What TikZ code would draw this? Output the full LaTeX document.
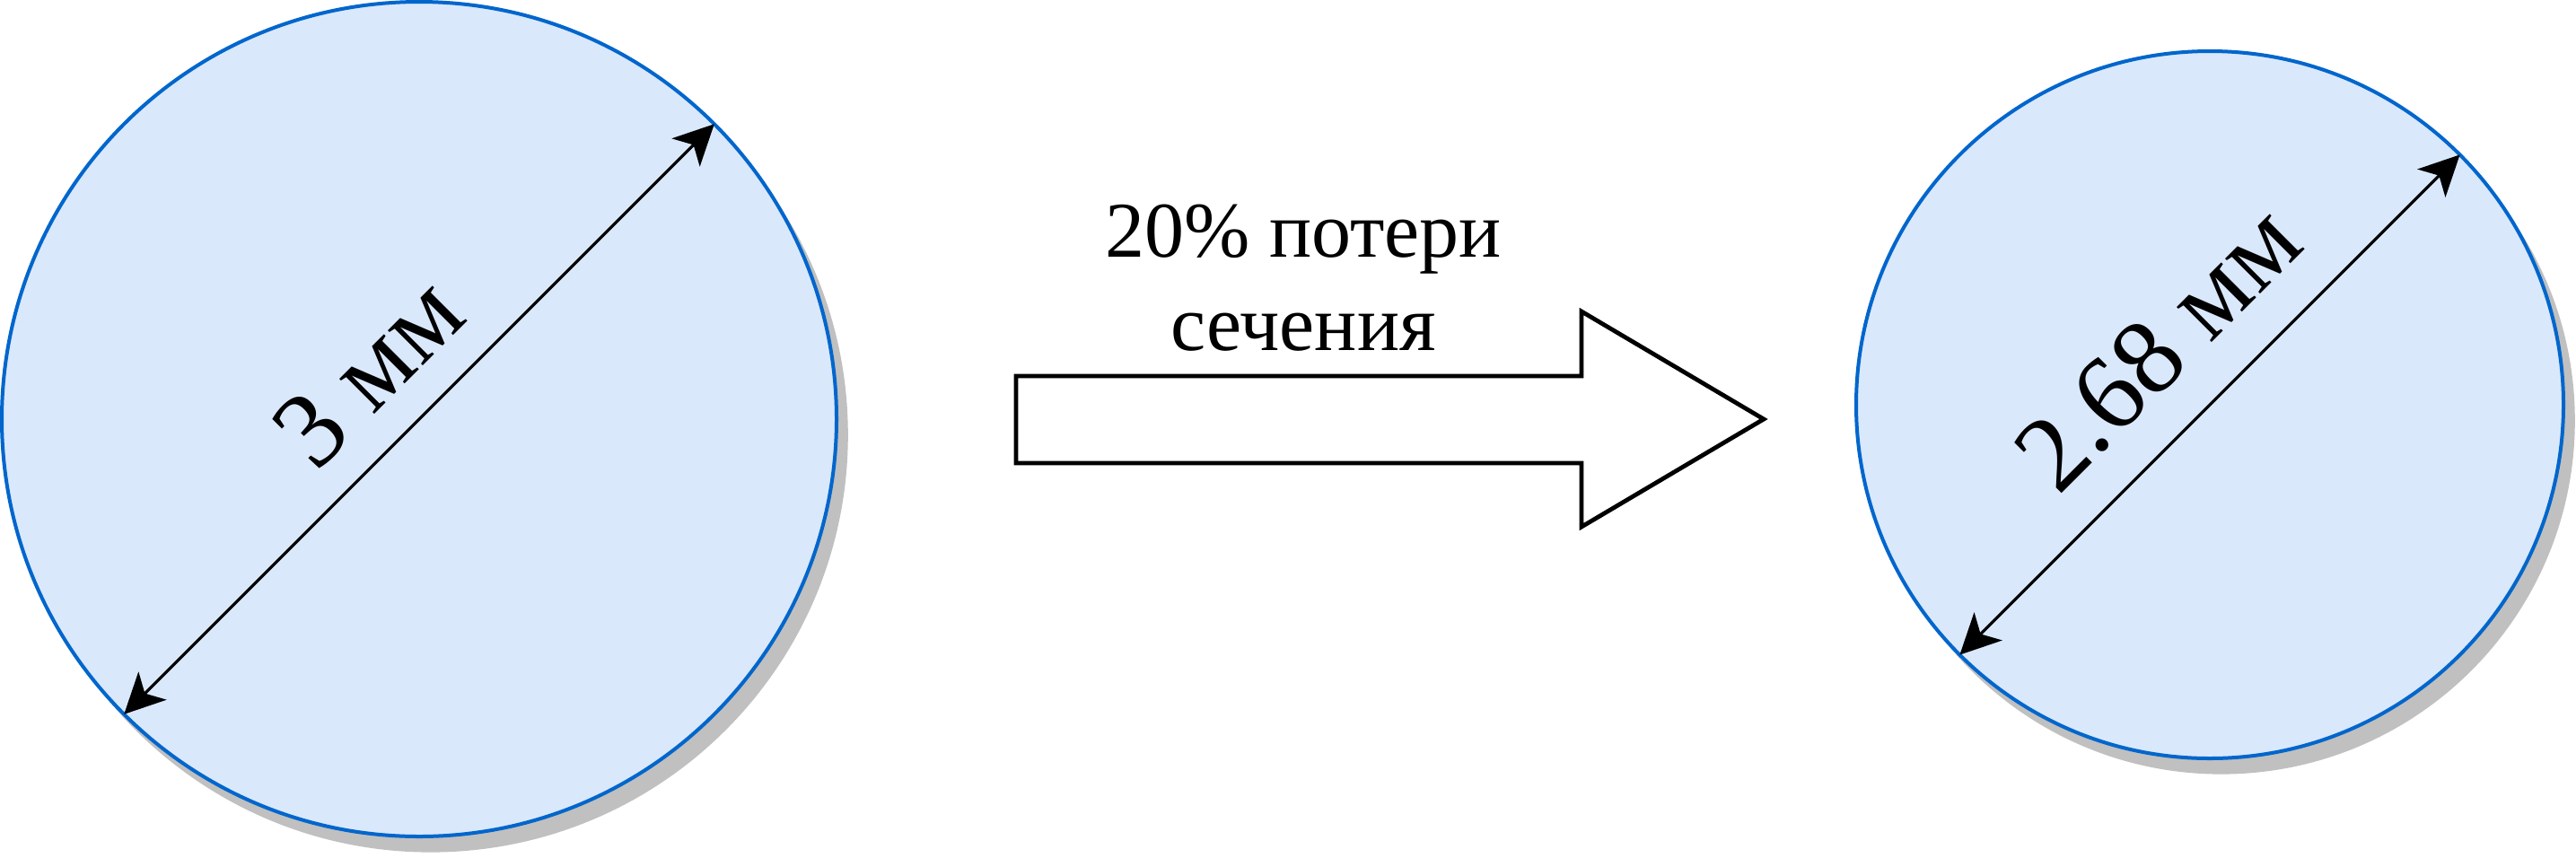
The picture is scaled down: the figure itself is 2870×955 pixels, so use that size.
\documentclass[tikz,border=0pt]{standalone}
\usepackage{fontspec}
\setmainfont{Liberation Serif}
\usetikzlibrary{arrows.meta,shadows}
\definecolor{cfill}{HTML}{DAE8FC}
\definecolor{cline}{HTML}{0066CC}
\definecolor{cshadow}{HTML}{C0C0C0}
\begin{document}
\begin{tikzpicture}[x=0.25pt,y=-0.25pt,
  disc/.style={circle, draw=cline, line width=1pt, fill=cfill, inner sep=0pt, outer sep=0pt,
    drop shadow={shadow xshift=3.2pt, shadow yshift=-4.4pt, fill=cshadow, opacity=1}},
  dim/.style={line width=0.8pt, {Stealth[length=11.2pt,width=11pt,inset=3pt]}-{Stealth[length=11.2pt,width=11pt,inset=3pt]}},
  lbl/.style={font=\fontsize{30}{36}\selectfont, rotate=45, inner sep=0pt},
  mid/.style={font=\fontsize{22}{26}\selectfont, anchor=base, inner sep=0pt},
  bigarrow/.style={draw=black, line width=1.2pt, fill=white, line join=miter}]
\useasboundingbox (0,0) rectangle (2870,955);
\node[disc, minimum size=232.5pt] (c1) at (467,467) {};
\node[disc, minimum size=197pt] (c2) at (2462,451) {};
\draw[dim] (c1.225) -- (c1.45);
\draw[dim] (c2.225) -- (c2.45);
\node[lbl] (l1) at (410,414) {3 мм};
\node[lbl] (l2) at (2404,387) {2.68 мм};
\draw[bigarrow] (1132,419) -- (1762,419) -- (1762,347) -- (1965,467) -- (1762,587) -- (1762,516) -- (1132,516) -- cycle;
\node[mid] (t1) at (1452,286) {20\% потери};
\node[mid] (t2) at (1452,390) {сечения};
\end{tikzpicture}
\end{document}
